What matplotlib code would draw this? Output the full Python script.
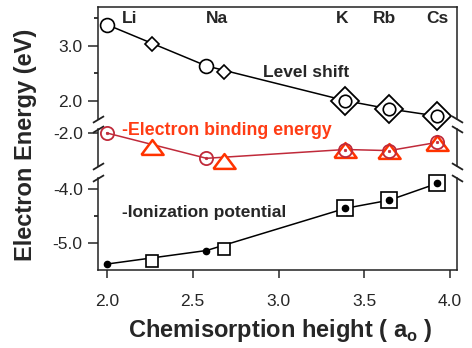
import matplotlib
matplotlib.use("Agg")
import matplotlib.pyplot as plt
from matplotlib.ticker import FixedLocator, NullLocator

plt.rcParams['font.family'] = ['Liberation Sans', 'DejaVu Sans']
plt.rcParams['axes.unicode_minus'] = False
plt.rcParams['mathtext.fontset'] = 'custom'
plt.rcParams['mathtext.rm'] = 'Liberation Sans'
plt.rcParams['mathtext.bf'] = 'Liberation Sans:bold'

# ---- data ----
elements = ["Li", "Na", "K", "Rb", "Cs"]
elem_x = [2.0, 2.58, 3.39, 3.645, 3.925]

# Level shift
level_circle_y = [3.38, 2.63, 2.00, 1.85, 1.72]
level_diamond_x = [2.26, 2.68, 3.39, 3.645, 3.925]
level_diamond_y = [3.03, 2.52, 2.00, 1.85, 1.72]

# -Electron binding energy
bind_circle_y = [-2.00, -2.46, -2.30, -2.32, -2.17]
bind_tri_x = [2.26, 2.68, 3.39, 3.645, 3.925]
bind_tri_y = [-2.25, -2.50, -2.31, -2.32, -2.19]

# -Ionization potential
ion_dot_y = [-5.39, -5.14, -4.36, -4.21, -3.90]
ion_sq_x = [2.26, 2.68, 3.39, 3.645, 3.925]
ion_sq_y = [-5.33, -5.12, -4.36, -4.21, -3.90]

xticks = [2.0, 2.5, 3.0, 3.5, 4.0]
top_ticks = [2.0, 3.0]
mid_ticks = [-2.0]
bot_ticks = [-5.0, -4.0]

labels_x = [2.134, 2.64, 3.37, 3.615, 3.925]

# ---- layout in pixels ----
W, H = 472, 348
fig = plt.figure(figsize=(W / 100, H / 100), dpi=100)
L, R = 98, 457

def make_ax(ytop, ybot):
    return fig.add_axes([L / W, 1 - ybot / H, (R - L) / W, (ybot - ytop) / H])

ax_t = make_ax(7, 119)
ax_m = make_ax(129, 166)
ax_b = make_ax(178, 270)

TXT = '#262626'
RED_LINE = '#c02a3a'
RED_TRI = '#ff3300'
RED_TXT = '#ff3c14'

for ax in (ax_t, ax_m, ax_b):
    ax.set_xlim(1.948, 4.04)
    ax.tick_params(axis='y', which='major', length=7, width=1.1, labelsize=12.5,
                   colors=TXT, pad=4)
    ax.tick_params(axis='y', which='minor', length=3, width=1.1)
    for s in ax.spines.values():
        s.set_linewidth(1.1)
        s.set_color('#222222')
    ax.patch.set_alpha(0)

ax_t.set_ylim(1.667, 3.70)
ax_m.set_ylim(-2.60, -1.927)
ax_b.set_ylim(-5.5, -3.80)

ax_t.yaxis.set_major_locator(FixedLocator(top_ticks))
ax_t.yaxis.set_minor_locator(FixedLocator([2.5, 3.5]))
ax_m.yaxis.set_major_locator(FixedLocator(mid_ticks))
ax_m.yaxis.set_minor_locator(NullLocator())
ax_b.yaxis.set_major_locator(FixedLocator(bot_ticks))
ax_b.yaxis.set_minor_locator(FixedLocator([-4.5]))
for ax in (ax_t, ax_m, ax_b):
    ax.yaxis.set_major_formatter(plt.FuncFormatter(lambda v, p: f"{v:.1f}"))

ax_t.spines['bottom'].set_visible(False)
ax_m.spines['bottom'].set_visible(False)
ax_m.spines['top'].set_visible(False)
ax_b.spines['top'].set_visible(False)
for ax in (ax_t, ax_m):
    ax.tick_params(axis='x', which='both', bottom=False, labelbottom=False)
ax_b.xaxis.set_major_locator(FixedLocator(xticks))
ax_b.xaxis.set_major_formatter(plt.FuncFormatter(lambda v, p: f"{v:.1f}"))
ax_b.tick_params(axis='x', length=6, width=1.1, labelsize=12.5, colors=TXT, pad=11)

# break marks
kw_l = dict(marker=[(-1, -0.6), (1, 0.6)], markersize=8, linestyle='none',
            color='#222222', mec='#222222', mew=1.3, clip_on=False)
kw_r = dict(marker=[(-1, 0.6), (1, -0.6)], markersize=8, linestyle='none',
            color='#222222', mec='#222222', mew=1.3, clip_on=False)
for ax, ends in ((ax_t, [0]), (ax_m, [0, 1]), (ax_b, [1])):
    for e in ends:
        ax.plot([0], [e], transform=ax.transAxes, **kw_l)
        ax.plot([1], [e], transform=ax.transAxes, **kw_r)

# ---- Level shift ----
ax_t.plot(elem_x, level_circle_y, '-', color='black', lw=1.1, zorder=2, clip_on=False)
ax_t.plot(level_diamond_x[:2], level_diamond_y[:2], 'D', ms=7.6, mfc='white',
          mec='black', mew=1.2, zorder=3, clip_on=False)
ax_t.plot(level_diamond_x[2:], level_diamond_y[2:], 'D', ms=14, mfc='white',
          mec='black', mew=1.3, zorder=3, clip_on=False)
ax_t.plot(elem_x[:2], level_circle_y[:2], 'o', ms=10, mfc='white',
          mec='black', mew=1.2, zorder=4, clip_on=False)
ax_t.plot(elem_x[2:], level_circle_y[2:], 'o', ms=9, mfc='white',
          mec='black', mew=1.2, zorder=4, clip_on=False)

# ---- Electron binding energy ----
tri = [(-1.5, -1), (1.5, -1), (0, 1), (-1.5, -1)]
ax_m.plot(elem_x, bind_circle_y, '-', color=RED_LINE, lw=1.1, zorder=2, clip_on=False)
ax_m.plot(bind_tri_x, bind_tri_y, linestyle='none', marker=tri, ms=16, mfc='white',
          mec=RED_TRI, mew=1.8, zorder=3, clip_on=False)
ax_m.plot(elem_x, bind_circle_y, 'o', ms=9.5, mfc='none', mec=RED_LINE,
          mew=1.3, zorder=4, clip_on=False)
ax_m.plot(elem_x, bind_circle_y, 'o', ms=1.8, mfc=RED_LINE, mec=RED_LINE,
          mew=0.5, zorder=5, clip_on=False)

# ---- Ionization potential ----
ax_b.plot(elem_x, ion_dot_y, '-', color='black', lw=1.1, zorder=2, clip_on=False)
ax_b.plot(ion_sq_x[:2], ion_sq_y[:2], 's', ms=8, mfc='white', mec='black',
          mew=1.2, zorder=3, clip_on=False)
ax_b.plot(ion_sq_x[2:], ion_sq_y[2:], 's', ms=12, mfc='white', mec='black',
          mew=1.2, zorder=3, clip_on=False)
ax_b.plot(elem_x, ion_dot_y, 'o', ms=4.5, mfc='black', mec='black', zorder=4,
          clip_on=False)

# ---- text ----
for name, lx in zip(elements, labels_x):
    ax_t.text(lx, 3.50, name, ha='center', va='center', fontsize=12.5,
              fontweight='bold', color=TXT)
ax_t.text(2.91, 2.52, "Level shift", ha='left', va='center', fontsize=12.5,
          fontweight='bold', color=TXT)
ax_m.text(2.087, -1.96, "-Electron binding energy", ha='left', va='center',
          fontsize=12.8, fontweight='bold', color=RED_TXT)
ax_b.text(2.087, -4.44, "-Ionization potential", ha='left', va='center',
          fontsize=12.5, fontweight='bold', color=TXT)

fig.text(26 / W, 1 - 145 / H, "Electron Energy (eV)", rotation=90, ha='center',
         va='center', fontsize=17, fontweight='bold', color=TXT)
fig.text(280 / W, 1 - 330 / H, r"Chemisorption height ( a$_\mathbf{o}$ )",
         ha='center', va='center', fontsize=17, fontweight='bold', color=TXT)

fig.savefig("out.png", dpi=100)
